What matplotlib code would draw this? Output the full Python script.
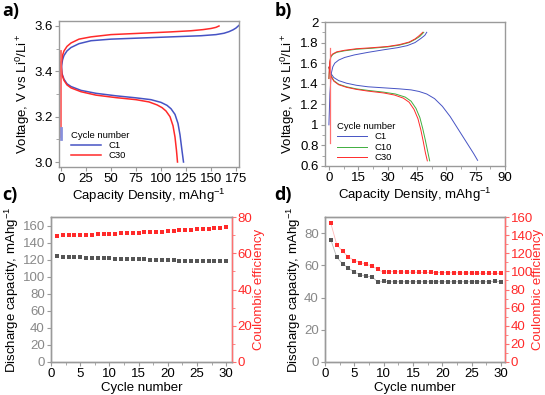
import matplotlib
matplotlib.use("Agg")
import matplotlib.pyplot as plt
from matplotlib.ticker import AutoMinorLocator

plt.rcParams["font.family"] = ["Liberation Sans", "DejaVu Sans"]
plt.rcParams["mathtext.default"] = "regular"

# ---- panel a: voltage profiles ----
a_c1_chg_cap = [0, 0.5, 1.5, 3, 6, 10, 18, 30, 50, 80, 110, 140, 155, 163, 168, 172, 175, 178]
a_c1_chg_v = [3.38, 3.42, 3.45, 3.47, 3.49, 3.505, 3.522, 3.535, 3.542, 3.547, 3.552, 3.557,
              3.562, 3.568, 3.575, 3.583, 3.591, 3.603]
a_c30_chg_cap = [0, 0.5, 1.5, 3, 6, 10, 18, 30, 50, 80, 110, 130, 142, 150, 155, 158]
a_c30_chg_v = [3.40, 3.44, 3.47, 3.49, 3.51, 3.525, 3.542, 3.552, 3.562, 3.568, 3.574, 3.579,
               3.584, 3.589, 3.594, 3.6]
a_c1_dis_cap = [0, 1, 3, 6, 10, 20, 35, 55, 75, 90, 100, 106, 110, 114, 117, 119, 121, 122.5]
a_c1_dis_v = [3.44, 3.39, 3.365, 3.345, 3.333, 3.316, 3.303, 3.292, 3.283, 3.275, 3.263, 3.25,
              3.235, 3.21, 3.17, 3.12, 3.05, 3.0]
a_c30_dis_cap = [0, 1, 3, 6, 10, 20, 35, 55, 75, 88, 96, 101, 105, 109, 112, 114, 115.5, 116.5]
a_c30_dis_v = [3.44, 3.385, 3.36, 3.34, 3.327, 3.31, 3.295, 3.284, 3.275, 3.265, 3.252, 3.24,
               3.225, 3.2, 3.16, 3.11, 3.05, 3.0]
a_c30_rest_cap = [0.3, 0.3]
a_c30_rest_v = [3.11, 3.49]
a_c1_rest_cap = [0.0, 0.0]
a_c1_rest_v = [3.10, 3.15]

# ---- panel b ----
b_c1_chg_cap = [0, 0.5, 1.2, 2, 3, 5, 8, 13, 20, 28, 35, 40, 44, 47, 49, 50]
b_c1_chg_v = [1.0, 1.3, 1.5, 1.565, 1.6, 1.63, 1.655, 1.68, 1.705, 1.73, 1.75, 1.77, 1.8,
              1.84, 1.87, 1.9]
b_c10_chg_cap = [0, 0.4, 1, 2, 4, 8, 14, 22, 30, 36, 41, 44, 46.5, 48.5]
b_c10_chg_v = [1.45, 1.6, 1.66, 1.685, 1.705, 1.72, 1.735, 1.745, 1.758, 1.775, 1.80, 1.83,
               1.86, 1.9]
b_c30_chg_cap = [0, 0.4, 1, 2, 4, 8, 14, 22, 30, 36, 41, 44, 46, 48]
b_c30_chg_v = [1.45, 1.61, 1.67, 1.69, 1.71, 1.725, 1.74, 1.75, 1.762, 1.78, 1.805, 1.835,
               1.865, 1.9]
b_c1_dis_cap = [0, 1, 2.5, 5, 9, 14, 20, 28, 36, 42, 46, 50, 54, 58, 62, 65, 68, 71, 74, 76]
b_c1_dis_v = [1.56, 1.5, 1.46, 1.43, 1.405, 1.385, 1.37, 1.36, 1.35, 1.34, 1.325, 1.3, 1.255,
              1.18, 1.08, 0.99, 0.90, 0.81, 0.72, 0.655]
b_c10_dis_cap = [0, 1, 2.5, 5, 9, 14, 20, 28, 34, 39, 42, 44.5, 46.5, 48, 49.3, 50.5, 51.5]
b_c10_dis_v = [1.56, 1.48, 1.43, 1.395, 1.37, 1.35, 1.335, 1.318, 1.30, 1.27, 1.23, 1.16,
               1.07, 0.96, 0.85, 0.74, 0.65]
b_c30_dis_cap = [0, 1, 2.5, 5, 9, 14, 20, 28, 33.5, 38, 41, 43.5, 45.5, 47, 48.2, 49.3, 50.3]
b_c30_dis_v = [1.56, 1.475, 1.425, 1.39, 1.365, 1.345, 1.328, 1.31, 1.29, 1.26, 1.22, 1.15,
               1.06, 0.95, 0.84, 0.73, 0.65]
b_c30_rest_cap = [0.3, 0.3]
b_c30_rest_v = [0.82, 1.75]

# ---- panel c / d: cycling ----
cycles = list(range(1, 31))
c_capacity = [124.0, 123.6, 123.3, 123.0, 122.8, 122.5, 122.3, 122.0, 121.8, 121.5,
              121.3, 121.0, 120.8, 120.6, 120.4, 120.2, 120.0, 119.8, 119.6, 119.4,
              119.2, 119.0, 118.8, 118.7, 118.6, 118.5, 118.4, 118.3, 118.2, 118.1]
c_ce = [69.6, 69.8, 69.9, 70.0, 70.1, 70.2, 70.3, 70.4, 70.6, 70.7,
        70.8, 71.0, 71.1, 71.3, 71.4, 71.6, 71.7, 71.9, 72.0, 72.2,
        72.4, 72.6, 72.8, 73.0, 73.2, 73.4, 73.6, 73.8, 74.1, 74.4]
d_capacity = [75.8, 65.0, 61.0, 58.3, 55.8, 54.2, 53.1, 53.0, 49.6, 50.0,
              49.8, 49.8, 49.8, 49.8, 49.8, 49.8, 49.8, 49.8, 49.8, 49.8,
              49.8, 49.8, 49.8, 49.8, 49.8, 49.8, 49.8, 49.8, 50.2, 49.8]
d_ce = [153.0, 129.6, 122.0, 116.0, 112.0, 109.7, 107.8, 106.0, 102.3, 98.8,
        99.8, 99.6, 99.4, 99.2, 99.1, 99.0, 98.9, 98.8, 98.7, 98.6,
        98.5, 98.4, 98.3, 98.2, 98.1, 98.0, 97.9, 97.9, 97.8, 97.8]

BLUE = "#4653c4"
RED = "#ff2a2a"
GREEN = "#3fae3f"
FS = 9.5

fig = plt.figure(figsize=(5.45, 3.95), dpi=100)


def style_frame(ax):
    for sp in ax.spines.values():
        sp.set_color("#9a9a9a")
        sp.set_linewidth(1.0)
    ax.tick_params(direction="out", length=3, width=0.8, color="#9a9a9a",
                   labelsize=FS, pad=1.5)
    ax.tick_params(which="minor", direction="out", length=2, width=0.6,
                   color="#9a9a9a")


# panel a
ax_a = fig.add_axes([59 / 545, 1 - 167 / 395, 180 / 545, 146 / 395])
ax_a.plot(a_c1_chg_cap, a_c1_chg_v, color=BLUE, lw=1.1)
ax_a.plot(a_c1_dis_cap, a_c1_dis_v, color=BLUE, lw=1.1, label="C1")
ax_a.plot(a_c30_chg_cap, a_c30_chg_v, color=RED, lw=1.1)
ax_a.plot(a_c30_dis_cap, a_c30_dis_v, color=RED, lw=1.1, label="C30")
ax_a.plot(a_c30_rest_cap, a_c30_rest_v, color="#ff6060", lw=1.3)
ax_a.plot(a_c1_rest_cap, a_c1_rest_v, color="#8890dd", lw=2.0)
ax_a.set_xlim(-2, 178)
ax_a.set_ylim(2.978, 3.622)
ax_a.set_xticks([0, 25, 50, 75, 100, 125, 150, 175])
ax_a.set_yticks([3.0, 3.2, 3.4, 3.6])
ax_a.yaxis.set_major_formatter(plt.FormatStrFormatter("%.1f"))
ax_a.yaxis.set_minor_locator(AutoMinorLocator(2))
style_frame(ax_a)
ax_a.set_xlabel("Capacity Density, mAhg$^{-1}$", fontsize=FS, labelpad=1)
ax_a.set_ylabel("Voltage, V vs Li$^0$/Li$^+$", fontsize=FS, labelpad=2)
ax_a.legend(title="Cycle number", loc="lower left", bbox_to_anchor=(0.03, 0.0),
            frameon=False, fontsize=6.8, title_fontsize=6.8, handlelength=3.2,
            labelspacing=0.15, borderpad=0.2, alignment="left")

# panel b
ax_b = fig.add_axes([325 / 545, 1 - 166 / 395, 180 / 545, 144 / 395])
ax_b.plot(b_c1_chg_cap, b_c1_chg_v, color=BLUE, lw=0.7)
ax_b.plot(b_c1_dis_cap, b_c1_dis_v, color=BLUE, lw=0.7, label="C1")
ax_b.plot(b_c10_chg_cap, b_c10_chg_v, color=GREEN, lw=0.7)
ax_b.plot(b_c10_dis_cap, b_c10_dis_v, color=GREEN, lw=0.7, label="C10")
ax_b.plot(b_c30_chg_cap, b_c30_chg_v, color=RED, lw=0.7)
ax_b.plot(b_c30_dis_cap, b_c30_dis_v, color=RED, lw=0.7, label="C30")
ax_b.plot(b_c30_rest_cap, b_c30_rest_v, color="#ff7070", lw=0.9)
ax_b.set_xlim(-2, 90)
ax_b.set_ylim(0.6, 2.0)
ax_b.set_xticks([0, 15, 30, 45, 60, 75, 90])
ax_b.set_yticks([0.6, 0.8, 1.0, 1.2, 1.4, 1.6, 1.8, 2.0])
ax_b.set_yticklabels(["0.6", "0.8", "1", "1.2", "1.4", "1.6", "1.8", "2"])
ax_b.xaxis.set_minor_locator(AutoMinorLocator(2))
ax_b.yaxis.set_minor_locator(AutoMinorLocator(2))
style_frame(ax_b)
ax_b.set_xlabel("Capacity Density, mAhg$^{-1}$", fontsize=FS, labelpad=1)
ax_b.set_ylabel("Voltage, V vs Li$^0$/Li$^+$", fontsize=FS, labelpad=2)
ax_b.legend(title="Cycle number", loc="lower left", bbox_to_anchor=(0.03, -0.02),
            frameon=False, fontsize=6.8, title_fontsize=6.8, handlelength=3.2,
            labelspacing=0.15, borderpad=0.2, alignment="left")


def cycling_panel(rect, cap, ce, cap_max, cap_ticks, ce_max, ce_ticks, xmax, lines,
                  ce_label_x):
    ax = fig.add_axes(rect)
    ax2 = ax.twinx()
    if lines:
        ax.plot(cycles, cap, color="#b8b8b8", lw=0.6, zorder=1)
        ax2.plot(cycles, ce, color="#ffb8b8", lw=0.6, zorder=1)
    ax.plot(cycles, cap, ls="none", marker="s", ms=2.6, color="#555555", mew=0, zorder=2)
    ax2.plot(cycles, ce, ls="none", marker="s", ms=2.6, color=RED, mew=0, zorder=2)
    ax.set_xlim(0, xmax)
    ax.set_ylim(0, cap_max)
    ax2.set_ylim(0, ce_max)
    ax.set_xticks([0, 5, 10, 15, 20, 25, 30])
    ax.set_yticks(cap_ticks)
    ax2.set_yticks(ce_ticks)
    ax.xaxis.set_minor_locator(AutoMinorLocator(2))
    ax2.yaxis.set_minor_locator(AutoMinorLocator(2))
    style_frame(ax)
    style_frame(ax2)
    ax.tick_params(axis="y", labelcolor="#888888")
    ax2.spines["right"].set_color("#ff7070")
    ax2.tick_params(axis="y", colors="#ff7070", labelcolor=RED, pad=1)
    ax2.tick_params(axis="y", which="minor", colors="#ff7070")
    ax.set_xlabel("Cycle number", fontsize=FS, labelpad=1)
    ax.set_ylabel("Discharge capacity, mAhg$^{-1}$", fontsize=FS, labelpad=1)
    ax2.set_ylabel("Coulombic efficiency", fontsize=FS, color=RED)
    ax2.yaxis.set_label_coords(ce_label_x, 0.5)
    return ax, ax2


cycling_panel([51 / 545, 1 - 362 / 395, 181 / 545, 145 / 395], c_capacity, c_ce,
              170, [0, 20, 40, 60, 80, 100, 120, 140, 160], 80, [0, 20, 40, 60, 80],
              31, False, 1.115)
cycling_panel([325 / 545, 1 - 362 / 395, 180 / 545, 145 / 395], d_capacity, d_ce,
              90, [0, 20, 40, 60, 80], 160, [0, 20, 40, 60, 80, 100, 120, 140, 160],
              30.7, True, 1.15)

for lab, x, y in [("a)", 0.004, 0.995), ("b)", 0.503, 0.995),
                  ("c)", 0.004, 0.53), ("d)", 0.503, 0.53)]:
    fig.text(x, y, lab, fontsize=13, fontweight="bold", ha="left", va="top",
             family=["Open Sans", "DejaVu Sans"])

fig.savefig("out.png", dpi=100)
